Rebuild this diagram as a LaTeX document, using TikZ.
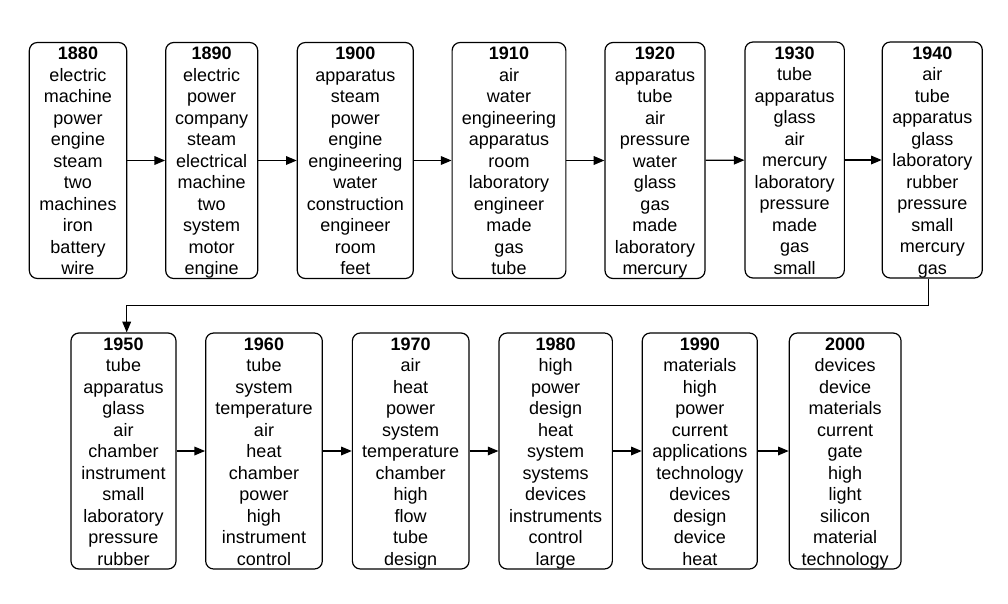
\documentclass[tikz,border=0pt]{standalone}
\usepackage{fontspec}
\setmainfont{Liberation Sans}
\usetikzlibrary{arrows.meta}
% year in bold, then the words, last baseline 3pt above the frame
\newcommand{\yrtext}[2]{\raisebox{0pt}[174pt][3pt]{%
  \begin{tabular}[b]{@{}c@{}}\textbf{#1}\\#2\end{tabular}}}
\tikzset{
  yrbox/.style = {draw=black, line width=0.9pt, rounded corners=6pt, inner sep=0pt,
                  minimum height=177pt,
                  font=\fontsize{13.5}{16.1}\selectfont},
  yrar/.style  = {-{Triangle[length=8pt,width=6.5pt]}, black, line width=0.9pt}
}
\begin{document}
\begin{tikzpicture}[x=0.75pt,y=-0.75pt]
  \useasboundingbox (0,0) rectangle (1008,604);
  % first row
  \node[yrbox,minimum width=73pt]   (n1880) at (78,160.5)
    {\yrtext{1880}{electric\\machine\\power\\engine\\steam\\two\\machines\\iron\\battery\\wire}};
  \node[yrbox,minimum width=69pt]   (n1890) at (211.7,160.5)
    {\yrtext{1890}{electric\\power\\company\\steam\\electrical\\machine\\two\\system\\motor\\engine}};
  \node[yrbox,minimum width=87pt]   (n1900) at (355.3,160.5)
    {\yrtext{1900}{apparatus\\steam\\power\\engine\\engineering\\water\\construction\\engineer\\room\\feet}};
  \node[yrbox,minimum width=85.3pt] (n1910) at (509,160.5)
    {\yrtext{1910}{air\\water\\engineering\\apparatus\\room\\laboratory\\engineer\\made\\gas\\tube}};
  \node[yrbox,minimum width=75pt]   (n1920) at (655,160.5)
    {\yrtext{1920}{apparatus\\tube\\air\\pressure\\water\\glass\\gas\\made\\laboratory\\mercury}};
  \node[yrbox,minimum width=74.5pt] (n1930) at (794.7,160)
    {\yrtext{1930}{tube\\apparatus\\glass\\air\\mercury\\laboratory\\pressure\\made\\gas\\small}};
  \node[yrbox,minimum width=75pt]   (n1940) at (932.3,160)
    {\yrtext{1940}{air\\tube\\apparatus\\glass\\laboratory\\rubber\\pressure\\small\\mercury\\gas}};
  % second row
  \node[yrbox,minimum width=78.8pt] (n1950) at (123.5,451)
    {\yrtext{1950}{tube\\apparatus\\glass\\air\\chamber\\instrument\\small\\laboratory\\pressure\\rubber}};
  \node[yrbox,minimum width=87.5pt] (n1960) at (264,451)
    {\yrtext{1960}{tube\\system\\temperature\\air\\heat\\chamber\\power\\high\\instrument\\control}};
  \node[yrbox,minimum width=87.5pt] (n1970) at (410.7,451)
    {\yrtext{1970}{air\\heat\\power\\system\\temperature\\chamber\\high\\flow\\tube\\design}};
  \node[yrbox,minimum width=85pt]   (n1980) at (555.7,451)
    {\yrtext{1980}{high\\power\\design\\heat\\system\\systems\\devices\\instruments\\control\\large}};
  \node[yrbox,minimum width=86.3pt] (n1990) at (699.8,451)
    {\yrtext{1990}{materials\\high\\power\\current\\applications\\technology\\devices\\design\\device\\heat}};
  \node[yrbox,minimum width=83.8pt] (n2000) at (845.2,451)
    {\yrtext{2000}{devices\\device\\materials\\current\\gate\\high\\light\\silicon\\material\\technology}};
  % arrows
  \draw[yrar] (n1880) -- (n1890);
  \draw[yrar] (n1890) -- (n1900);
  \draw[yrar] (n1900) -- (n1910);
  \draw[yrar] (n1910) -- (n1920);
  \draw[yrar] (n1920) -- (n1930);
  \draw[yrar] (n1930) -- (n1940);
  \draw[yrar] ([xshift=-3pt]n1940.south) -- ++(0,27) -| ([xshift=2.4pt]n1950.north);
  \draw[yrar] (n1950) -- (n1960);
  \draw[yrar] (n1960) -- (n1970);
  \draw[yrar] (n1970) -- (n1980);
  \draw[yrar] (n1980) -- (n1990);
  \draw[yrar] (n1990) -- (n2000);
\end{tikzpicture}
\end{document}
